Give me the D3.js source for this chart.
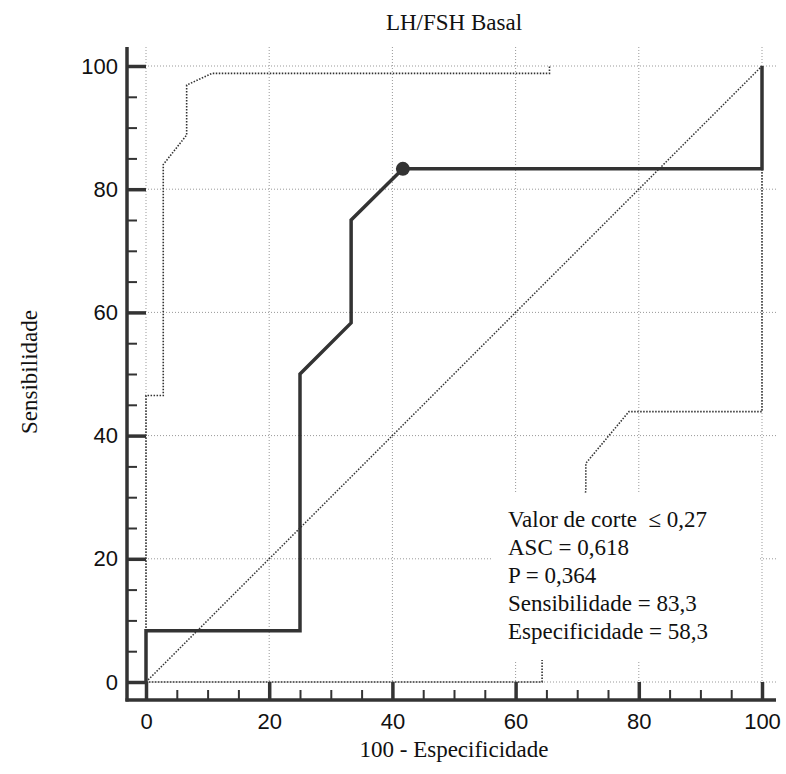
<!DOCTYPE html>
<html>
<head>
<meta charset="utf-8">
<script src="https://cdn.jsdelivr.net/npm/d3@7"></script>
<style>
  body { margin: 0; background: #fff; }
</style>
</head>
<body>
<div id="wrapper"></div>
<script>
// ROC curve
const rocX = [0, 0, 25, 25, 33.3, 33.3, 41.7, 100, 100];
const rocY = [0, 8.3, 8.3, 50, 58.3, 75, 83.3, 83.3, 100];

// confidence bounds
const upperX = [0, 0, 2.8, 2.8, 6.6, 6.6, 10.7, 65.5, 65.5];
const upperY = [0, 46.5, 46.5, 84, 88.8, 96.9, 98.8, 98.8, 100];
const lowerX = [0, 64.3, 64.3, 71.4, 71.4, 78.4, 100, 100];
const lowerY = [0, 0, 3.9, 31, 35.5, 43.9, 43.9, 100];

// cut-off point
const cutX = 41.7;
const cutY = 83.3;

const majorTicks = [0, 20, 40, 60, 80, 100];
const minorTicks = [5, 10, 15, 25, 30, 35, 45, 50, 55, 65, 70, 75, 85, 90, 95];

const statLines = [
    "Valor de corte  \u2264 0,27",
    "ASC = 0,618",
    "P = 0,364",
    "Sensibilidade = 83,3",
    "Especificidade = 58,3"
];

const title = "LH/FSH Basal";
const xTitle = "100 - Especificidade";
const yTitle = "Sensibilidade";

const dim = {
    width: 786,
    height: 774,
    left: 127,
    right: 776,
    top: 47,
    bottom: 700
};

const dark = "#333";
const serif = "'Liberation Serif', 'Times New Roman', serif";
const sans = "'Liberation Sans', Arial, sans-serif";

const svg = d3.select("#wrapper")
    .append("svg")
    .attr("width", dim.width)
    .attr("height", dim.height);

const x = d3.scaleLinear().domain([0, 100]).range([146, 762]);
const y = d3.scaleLinear().domain([0, 100]).range([682, 66]);

// grid
const grid = svg.append("g")
    .attr("stroke", "#999")
    .attr("stroke-width", 1)
    .attr("stroke-dasharray", "1,2");
grid.selectAll("line.v")
    .data(majorTicks)
    .enter()
    .append("line")
    .attr("x1", d => x(d))
    .attr("x2", d => x(d))
    .attr("y1", dim.top)
    .attr("y2", dim.bottom);
grid.selectAll("line.h")
    .data(majorTicks)
    .enter()
    .append("line")
    .attr("x1", dim.left)
    .attr("x2", dim.right)
    .attr("y1", d => y(d))
    .attr("y2", d => y(d));

const toPts = (xs, ys) => xs.map((v, i) => [v, ys[i]]);
const line = d3.line().x(d => x(d[0])).y(d => y(d[1]));

// diagonal
svg.append("path")
    .attr("d", line([[0, 0], [100, 100]]))
    .attr("fill", "none")
    .attr("stroke", dark)
    .attr("stroke-width", 1.5)
    .attr("stroke-dasharray", "1.5,1.5");

// confidence bounds
[toPts(upperX, upperY), toPts(lowerX, lowerY)].forEach(pts => {
    svg.append("path")
        .attr("d", line(pts))
        .attr("fill", "none")
        .attr("stroke", dark)
        .attr("stroke-width", 1.6)
        .attr("stroke-dasharray", "1.5,1.5");
});

// stats box
svg.append("rect")
    .attr("x", 493)
    .attr("y", 493)
    .attr("width", 267)
    .attr("height", 167)
    .attr("fill", "#fff");

// ROC
svg.append("path")
    .attr("d", line(toPts(rocX, rocY)))
    .attr("fill", "none")
    .attr("stroke", dark)
    .attr("stroke-width", 3.5)
    .attr("stroke-linejoin", "miter");

svg.append("circle")
    .attr("cx", x(cutX))
    .attr("cy", y(cutY))
    .attr("r", 7)
    .attr("fill", dark);

svg.append("g")
    .selectAll("text")
    .data(statLines)
    .enter()
    .append("text")
    .attr("x", 508)
    .attr("y", (d, i) => 527 + i * 28)
    .attr("font-family", serif)
    .attr("font-size", "23px")
    .attr("fill", "#111")
    .attr("xml:space", "preserve")
    .style("white-space", "pre")
    .text(d => d);

// axes
function styleAxis(g, width) {
    g.select(".domain").remove();
    g.selectAll(".tick line").attr("stroke", dark).attr("stroke-width", width);
    g.selectAll(".tick text")
        .attr("font-family", sans)
        .attr("font-size", "22px")
        .attr("fill", "#111");
}

const yMinor = svg.append("g")
    .attr("transform", `translate(${dim.left},0)`)
    .call(d3.axisLeft(y).tickValues(minorTicks).tickSize(-10).tickFormat(""))
    .call(g => styleAxis(g, 2));
const yMajor = svg.append("g")
    .attr("transform", `translate(${dim.left},0)`)
    .call(d3.axisLeft(y).tickValues(majorTicks).tickSize(-19).tickPadding(9))
    .call(g => styleAxis(g, 3.5));

const xMinor = svg.append("g")
    .attr("transform", `translate(0,${dim.bottom})`)
    .call(d3.axisBottom(x).tickValues(minorTicks).tickSize(-10).tickFormat(""))
    .call(g => styleAxis(g, 2));
const xMajor = svg.append("g")
    .attr("transform", `translate(0,${dim.bottom})`)
    .call(d3.axisBottom(x).tickValues(majorTicks).tickSize(-18).tickPadding(13))
    .call(g => styleAxis(g, 3.5));

svg.append("line")
    .attr("x1", dim.left).attr("x2", dim.left)
    .attr("y1", dim.top).attr("y2", dim.bottom + 1.5)
    .attr("stroke", dark).attr("stroke-width", 3.5);
svg.append("line")
    .attr("x1", dim.left - 1.5).attr("x2", dim.right)
    .attr("y1", dim.bottom).attr("y2", dim.bottom)
    .attr("stroke", dark).attr("stroke-width", 3.5);

// titles
svg.append("text")
    .attr("x", 454)
    .attr("y", 30)
    .attr("text-anchor", "middle")
    .attr("font-family", serif)
    .attr("font-size", "23px")
    .attr("fill", "#111")
    .text(title);

svg.append("text")
    .attr("x", 454)
    .attr("y", 757)
    .attr("text-anchor", "middle")
    .attr("font-family", serif)
    .attr("font-size", "23px")
    .attr("fill", "#111")
    .text(xTitle);

svg.append("text")
    .attr("transform", "translate(37,372) rotate(-90)")
    .attr("text-anchor", "middle")
    .attr("font-family", serif)
    .attr("font-size", "23px")
    .attr("fill", "#111")
    .text(yTitle);
</script>
</body>
</html>
